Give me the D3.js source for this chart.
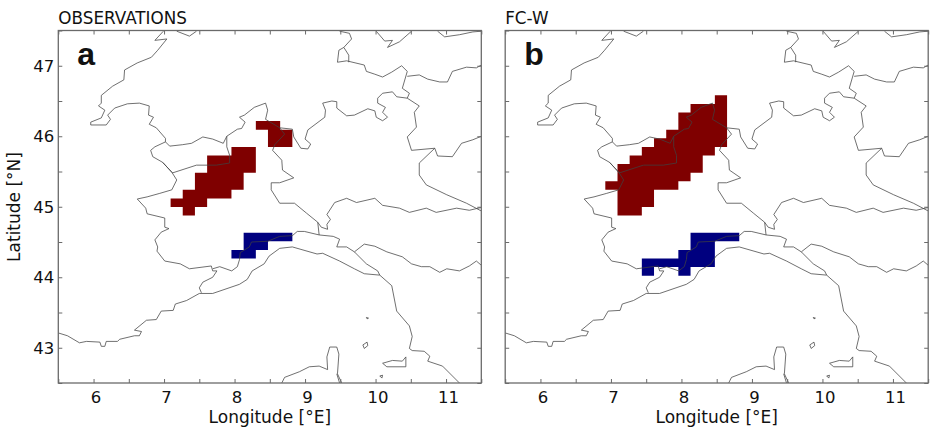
<!DOCTYPE html>
<html>
<head>
<meta charset="utf-8">
<script src="https://cdn.jsdelivr.net/npm/d3@7"></script>
<style>
  html, body { margin: 0; padding: 0; background: #fff; }
  svg { display: block; }
  text { font-family: "DejaVu Sans", sans-serif; fill: #111; }
</style>
</head>
<body>
<div id="chart"></div>
<script>
const WIDTH = 930;
const HEIGHT = 427;

const lonTicks = [5.5, 6, 6.5, 7, 7.5, 8, 8.5, 9, 9.5, 10, 10.5, 11, 11.5];
const latTicks = [42.5, 43, 43.5, 44, 44.5, 45, 45.5, 46, 46.5, 47, 47.5];

// model grid edges
const lonEdges = [6.92, 7.093, 7.265, 7.438, 7.611, 7.784, 7.956, 8.129, 8.302, 8.474, 8.647, 8.82];
const latEdges = [46.58, 46.458, 46.336, 46.215, 46.093, 45.971, 45.849, 45.727, 45.606, 45.484, 45.362,
  45.24, 45.118, 44.997, 44.875, 44.753, 44.631, 44.509, 44.388, 44.266, 44.144, 44.022];

// runs of grid cells: [row, first lon edge, last lon edge]
const obsWarmRuns = [[3, 8, 10], [4, 9, 11], [5, 9, 11], [6, 6, 8], [7, 4, 8], [8, 4, 8], [9, 3, 7], [10, 3, 7],
  [11, 2, 6], [12, 1, 4], [13, 2, 3]];
const obsColdRuns = [[16, 7, 11], [17, 7, 9], [18, 6, 8]];
const fcWarmRuns = [[0, 9, 10], [1, 7, 10], [2, 6, 10], [3, 6, 10], [4, 5, 10], [5, 4, 10], [6, 3, 9], [7, 2, 8],
  [8, 1, 8], [9, 1, 7], [10, 0, 6], [11, 1, 4], [12, 1, 4], [13, 1, 3]];
const fcColdRuns = [[16, 7, 11], [17, 7, 9], [18, 6, 9], [19, 3, 9], [20, 3, 4], [20, 6, 7]];

// map outlines in lon/lat
const westAlps = [[6.99, 47.49], [6.87, 47.36], [7.04, 47.38], [6.91, 47.22], [6.82, 47.12], [6.62, 47.04], [6.44, 46.94],
  [6.43, 46.8], [6.27, 46.71], [6.11, 46.58], [6.11, 46.47], [6.07, 46.43], [6.16, 46.37], [6.11, 46.26], [5.96, 46.2],
  [5.96, 46.16], [6.18, 46.16], [6.24, 46.24], [6.2, 46.3], [6.3, 46.4], [6.48, 46.46], [6.65, 46.47], [6.79, 46.43],
  [6.78, 46.3], [6.85, 46.27], [6.79, 46.17], [6.89, 46.12], [7.02, 45.97], [7.02, 45.92]];
const swissBorder = [[7.02, 45.92], [7.08, 45.86], [7.26, 45.88], [7.39, 45.9], [7.55, 45.99], [7.69, 45.96], [7.84, 45.9],
  [7.89, 46.0], [8.04, 46.1], [8.1, 46.11], [8.15, 46.2], [8.07, 46.27], [8.14, 46.3], [8.28, 46.41], [8.44, 46.47],
  [8.47, 46.37], [8.44, 46.24], [8.64, 46.12], [8.82, 46.1], [8.84, 45.99], [8.94, 45.83], [9.04, 45.82], [9.08, 45.89],
  [9.0, 45.96], [9.04, 46.09], [9.28, 46.27], [9.29, 46.37], [9.25, 46.47], [9.38, 46.5], [9.45, 46.49], [9.45, 46.4],
  [9.59, 46.29], [9.7, 46.3], [9.89, 46.39], [9.99, 46.36], [10.01, 46.27], [10.1, 46.22], [10.17, 46.27], [10.1, 46.34],
  [10.14, 46.41], [10.03, 46.47], [10.03, 46.54], [10.1, 46.61], [10.24, 46.63], [10.3, 46.56], [10.45, 46.54],
  [10.48, 46.61], [10.38, 46.68], [10.45, 46.92], [10.37, 47.0], [10.23, 46.91], [10.1, 46.84], [9.99, 46.88],
  [9.87, 46.92], [9.84, 47.01], [9.59, 47.07], [9.46, 47.05], [9.48, 47.22], [9.55, 47.26], [9.66, 47.38], [9.63, 47.46],
  [9.49, 47.49]];
const liechtenstein = [[9.55, 47.26], [9.62, 47.15], [9.62, 47.05]];
const austriaBorder = [[10.45, 46.85], [10.62, 46.87], [10.74, 46.81], [10.91, 46.77], [11.02, 46.77], [11.09, 46.92],
  [11.29, 46.98], [11.43, 46.97], [11.5, 47.01]];
const germanyBorder = [[10.01, 47.49], [10.13, 47.35], [10.24, 47.36], [10.17, 47.26], [10.34, 47.34], [10.51, 47.49]];
const northEdge = [[10.88, 47.49], [10.98, 47.41], [11.19, 47.44], [11.38, 47.48], [11.5, 47.49]];
const jura = [[7.18, 47.49], [7.36, 47.42], [7.46, 47.49]];
const trentino = [[10.45, 46.54], [10.62, 46.43], [10.55, 46.34], [10.58, 46.13], [10.45, 45.99], [10.51, 45.8], [10.84, 45.83],
  [10.88, 45.72], [11.09, 45.71], [11.22, 45.9], [11.38, 45.95], [11.5, 46.0]];
const veneto = [[10.84, 45.83], [10.62, 45.62], [10.62, 45.45], [10.72, 45.31], [11.01, 45.17], [11.29, 45.05], [11.5, 44.94]];
const lombardy = [[8.64, 46.12], [8.71, 46.03], [8.57, 45.88], [8.54, 45.8], [8.67, 45.66], [8.68, 45.52], [8.84, 45.41],
  [8.64, 45.34], [8.52, 45.34], [8.52, 45.24], [8.64, 45.05], [8.85, 45.05], [9.02, 44.91], [9.18, 44.78], [9.23, 44.71],
  [9.32, 44.68], [9.31, 44.75], [9.36, 44.82], [9.31, 44.89]];
const poRiver = [[9.31, 44.89], [9.42, 45.06], [9.59, 45.12], [9.73, 45.06], [9.99, 45.12], [10.1, 45.02], [10.34, 44.98],
  [10.48, 44.92], [10.72, 44.98], [10.86, 44.92], [11.15, 44.98], [11.33, 44.95], [11.5, 44.99]];
const apennines = [[9.18, 44.78], [9.2, 44.6], [9.4, 44.58], [9.49, 44.54], [9.45, 44.43], [9.59, 44.43], [9.7, 44.36],
  [9.84, 44.47], [9.99, 44.44], [10.16, 44.36], [10.38, 44.29], [10.51, 44.19], [10.65, 44.15], [10.77, 44.15],
  [10.91, 44.07], [11.01, 44.12], [11.19, 44.09], [11.33, 44.16], [11.43, 44.23], [11.5, 44.17]];
const tuscanyBorder = [[9.7, 44.36], [9.87, 44.19], [10.03, 44.09], [10.06, 44.03]];
const coast = [[5.5, 43.21], [5.63, 43.17], [5.8, 43.07], [5.9, 43.09], [6.09, 43.08], [6.11, 43.02], [6.16, 43.02],
  [6.18, 43.09], [6.34, 43.09], [6.37, 43.12], [6.58, 43.17], [6.65, 43.17], [6.68, 43.23], [6.58, 43.25], [6.75, 43.39],
  [6.89, 43.4], [6.96, 43.52], [7.13, 43.53], [7.16, 43.62], [7.32, 43.67], [7.5, 43.77], [7.69, 43.77], [8.07, 43.9],
  [8.18, 43.97], [8.25, 44.09], [8.42, 44.19], [8.49, 44.3], [8.64, 44.41], [8.82, 44.43], [9.17, 44.33], [9.25, 44.34],
  [9.49, 44.23], [9.7, 44.12], [9.84, 44.05], [10.06, 44.03], [10.23, 43.88], [10.3, 43.52], [10.48, 43.31], [10.52, 43.16],
  [10.48, 42.99], [10.52, 42.96], [10.69, 42.95], [10.77, 42.88], [10.74, 42.81], [10.95, 42.74], [11.19, 42.5]];
const frenchBorder = [[7.02, 45.92], [6.87, 45.85], [6.81, 45.8], [6.84, 45.71], [6.98, 45.63], [7.11, 45.49], [7.18, 45.38],
  [7.11, 45.24], [6.94, 45.19], [6.76, 45.14], [6.62, 45.11], [6.74, 44.98], [6.76, 44.9], [7.01, 44.84], [7.01, 44.71],
  [7.07, 44.69], [6.96, 44.64], [6.87, 44.53], [6.91, 44.43], [6.9, 44.37], [7.01, 44.23], [7.23, 44.19], [7.36, 44.12],
  [7.67, 44.16], [7.69, 44.09], [7.75, 44.09], [7.69, 44.0], [7.55, 43.93], [7.5, 43.85], [7.53, 43.78]];
const liguriaBorder = [[7.69, 44.12], [7.79, 44.15], [7.96, 44.09], [8.04, 44.15], [8.07, 44.25], [8.08, 44.35], [8.21, 44.43],
  [8.24, 44.5], [8.47, 44.51], [8.64, 44.58], [8.82, 44.59], [8.89, 44.65], [8.99, 44.65], [9.2, 44.6]];
const aosta = [[6.98, 45.63], [7.12, 45.48], [7.46, 45.59], [7.74, 45.59], [7.93, 45.62], [7.93, 45.73], [7.89, 45.85], [7.89, 46.0]];
const elba = [[10.1, 42.78], [10.24, 42.82], [10.38, 42.81], [10.43, 42.87], [10.43, 42.73], [10.16, 42.73], [10.1, 42.78]];
const capraia = [[9.82, 43.04], [9.88, 43.08], [9.89, 43.03], [9.84, 42.99], [9.82, 43.04]];
const gorgona = [[9.87, 43.43], [9.9, 43.42], [9.88, 43.41], [9.87, 43.43]];
const pianosa = [[10.06, 42.6], [10.1, 42.61], [10.09, 42.57], [10.06, 42.6]];
const corsica = [[8.67, 42.5], [8.71, 42.58], [8.92, 42.66], [9.06, 42.73], [9.2, 42.74], [9.32, 42.69], [9.31, 42.87],
  [9.35, 43.01], [9.45, 43.01], [9.48, 42.91], [9.46, 42.63], [9.52, 42.5]];
const corsicaEast = [[9.45, 42.63], [9.49, 42.5]];

const mapLines = [westAlps, swissBorder, liechtenstein, austriaBorder, germanyBorder, northEdge, jura, trentino, veneto,
  lombardy, poRiver, apennines, tuscanyBorder, coast, frenchBorder, liguriaBorder, aosta, elba, capraia, gorgona, pianosa,
  corsica, corsicaEast];

const PLOT = { top: 30.5, bottom: 383, width: 423 };
const FRAME_COLOR = "#6a6a6a";
const WARM_COLOR = "#7f0000";
const COLD_COLOR = "#00007f";

const svg = d3.select("#chart").append("svg").attr("width", WIDTH).attr("height", HEIGHT);
const y = d3.scaleLinear().domain([42.5, 47.5]).range([PLOT.bottom, PLOT.top]);

function cellPath(x, runs) {
  const path = d3.path();
  runs.forEach(([row, first, last]) => {
    path.rect(x(lonEdges[first]), y(latEdges[row]), x(lonEdges[last]) - x(lonEdges[first]), y(latEdges[row + 1]) - y(latEdges[row]));
  });
  return path.toString();
}

function styleAxis(axisGroup) {
  axisGroup.select(".domain").remove();
  axisGroup.selectAll("line").attr("stroke", FRAME_COLOR).attr("stroke-width", 1);
  axisGroup.selectAll("text").style("font-size", "16.5px").attr("fill", "#111");
}

function drawPanel(id, left, title, letter, warmRuns, coldRuns, showLatLabels) {
  const x = d3.scaleLinear().domain([5.5, 11.5]).range([left, left + PLOT.width]);
  const panel = svg.append("g").attr("class", "panel");

  panel.append("clipPath").attr("id", "clip-" + id)
    .append("rect").attr("x", left).attr("y", PLOT.top).attr("width", PLOT.width).attr("height", PLOT.bottom - PLOT.top);

  panel.append("path").attr("d", cellPath(x, warmRuns)).attr("fill", WARM_COLOR);
  panel.append("path").attr("d", cellPath(x, coldRuns)).attr("fill", COLD_COLOR);

  const line = d3.line().x((d) => x(d[0])).y((d) => y(d[1]));
  panel.append("g").attr("clip-path", `url(#clip-${id})`)
    .selectAll("path").data(mapLines).enter().append("path")
    .attr("d", line)
    .attr("fill", "none")
    .attr("stroke", "#404040")
    .attr("stroke-width", 0.75);

  // ticks point inward on all four sides, labels only on whole degrees
  const lonFormat = (d) => (Number.isInteger(d) ? d : "");
  const latFormat = (d) => (showLatLabels && Number.isInteger(d) ? d : "");
  const bottomAxis = d3.axisBottom(x).tickValues(lonTicks).tickSize(-4).tickPadding(8).tickFormat(lonFormat);
  const topAxis = d3.axisTop(x).tickValues(lonTicks).tickSize(-4).tickFormat("");
  const leftAxis = d3.axisLeft(y).tickValues(latTicks).tickSize(-4).tickPadding(4).tickFormat(latFormat);
  const rightAxis = d3.axisRight(y).tickValues(latTicks).tickSize(-4).tickFormat("");

  panel.append("g").attr("transform", `translate(0,${PLOT.bottom})`).call(bottomAxis).call(styleAxis)
    .selectAll("text").attr("dx", 2);
  panel.append("g").attr("transform", `translate(0,${PLOT.top})`).call(topAxis).call(styleAxis);
  panel.append("g").attr("transform", `translate(${left},0)`).call(leftAxis).call(styleAxis);
  panel.append("g").attr("transform", `translate(${left + PLOT.width},0)`).call(rightAxis).call(styleAxis);

  panel.append("rect")
    .attr("x", left).attr("y", PLOT.top).attr("width", PLOT.width).attr("height", PLOT.bottom - PLOT.top)
    .attr("fill", "none").attr("stroke", FRAME_COLOR).attr("stroke-width", 1.3);

  panel.append("text").attr("x", left).attr("y", 24).style("font-size", "16.8px").text(title);
  panel.append("text").attr("x", left + 19).attr("y", 65)
    .style("font-family", '"Liberation Sans", sans-serif').style("font-weight", "bold").style("font-size", "32px")
    .text(letter);
  panel.append("text").attr("x", left + PLOT.width / 2).attr("y", 423).attr("text-anchor", "middle")
    .style("font-size", "17px").text("Longitude [°E]");
}

drawPanel("a", 58.3, "OBSERVATIONS", "a", obsWarmRuns, obsColdRuns, true);
drawPanel("b", 505.2, "FC-W", "b", fcWarmRuns, fcColdRuns, false);

svg.append("text").attr("transform", "translate(20,207) rotate(-90)").attr("text-anchor", "middle")
  .style("font-size", "17px").text("Latitude [°N]");
</script>
</body>
</html>
